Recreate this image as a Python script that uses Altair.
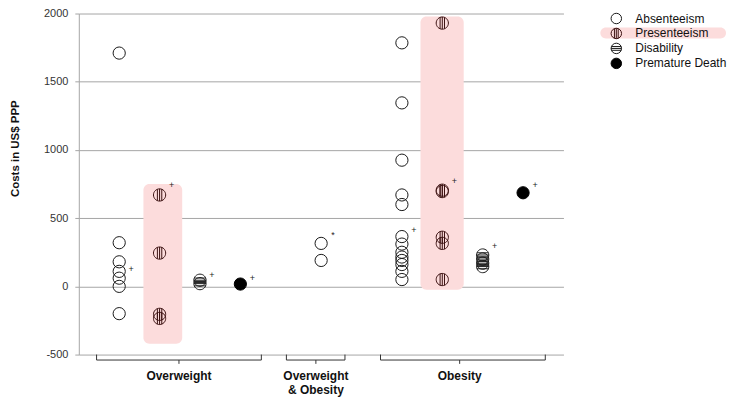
import altair as alt
import pandas as pd

categories = ["Absenteeism", "Presenteeism", "Disability", "Premature Death"]
group_labels = ["Overweight", "Overweight\n& Obesity", "Obesity"]

# values (costs in US$ PPP) per series
ow_abs = [1710, 320, 180, 110, 60, 0, -200]
ow_pre = [670, 244, -205, -235]
ow_dis = [45, 20]
ow_pdt = [17]
oo_abs = [315, 190]
ob_abs = [1785, 1345, 925, 670, 600, 365, 310, 250, 215, 190, 160, 110, 50]
ob_pre = [1930, 705, 695, 360, 315, 50]
ob_dis = [230, 200, 170, 145]
ob_pdt = [686]

series_values = [ow_abs, ow_pre, ow_dis, ow_pdt, oo_abs, ob_abs, ob_pre, ob_dis, ob_pdt]
series_cats = ["Absenteeism", "Presenteeism", "Disability", "Premature Death",
               "Absenteeism",
               "Absenteeism", "Presenteeism", "Disability", "Premature Death"]
series_slots = [1, 2, 3, 4, 6, 8, 9, 10, 11]

# significance markers
mark_slots = [1, 2, 3, 4, 6, 8, 9, 10, 11]
mark_values = [128, 742, 85, 63, 377, 414, 771, 297, 742]
mark_symbols = ["+", "+", "+", "+", "*", "+", "+", "+", "+"]

# highlight bands (presenteeism)
hl_x = [1.6, 8.46]
hl_x2 = [2.56, 9.53]
hl_top = [750, 1978]
hl_bottom = [-420, -25]

# group brackets
br_start = [0.44, 5.14, 7.47]
br_end = [4.52, 6.59, 11.55]
br_mid = [2.48, 5.87, 9.43]
br_top = -500
br_bottom = -540
br_tick = -568
label_top = -622

rows = []
for vals, cat, slot in zip(series_values, series_cats, series_slots):
    for v in vals:
        rows.append({"slot": slot, "value": v, "cat": cat})
points_df = pd.DataFrame(rows)

marks_df = pd.DataFrame({"slot": mark_slots, "value": mark_values, "sym": mark_symbols})
hl_df = pd.DataFrame({"x": hl_x, "x2": hl_x2, "y": hl_top, "y2": hl_bottom})
br_df = pd.DataFrame({"start": br_start, "end": br_end, "mid": br_mid,
                      "label": group_labels,
                      "top": [br_top] * 3, "bottom": [br_bottom] * 3,
                      "tick": [br_tick] * 3, "ly": [label_top] * 3})

FONT = "Liberation Sans"
xscale = alt.Scale(domain=[0, 12], nice=False, zero=False)
yscale = alt.Scale(domain=[-500, 2000], nice=False, zero=False)

yaxis = alt.Axis(
    values=[-500, 0, 500, 1000, 1500, 2000], grid=True,
    gridColor="#a6a6a6", domainColor="#a6a6a6", tickColor="#a6a6a6",
    tickSize=4, labelFont=FONT, labelFontSize=11, labelColor="#333333",
    labelPadding=7, labelExpr="'' + datum.value",
    title="Costs in US$ PPP", titleFont=FONT, titleFontSize=11.5,
    titleFontWeight="bold", titleColor="#111111", titleX=-63, titleY=135,
    titleAngle=270, titleAlign="center", titleBaseline="middle",
)

circ = "M-1,0A1,1,0,1,1,1,0A1,1,0,1,1,-1,0Z"
pres_shape = circ + "M-0.36,-0.93L-0.36,0.93M0,-1L0,1M0.36,-0.93L0.36,0.93"
dis_shape = circ + "M-0.93,-0.36L0.93,-0.36M-1,0L1,0M-0.93,0.36L0.93,0.36"

pink = "#fcdcdc"

bands = alt.Chart(hl_df).mark_rect(color=pink, cornerRadius=6).encode(
    x=alt.X("x:Q", scale=xscale, axis=None),
    x2="x2:Q",
    y=alt.Y("y:Q", scale=yscale, axis=yaxis),
    y2="y2:Q",
)

legend_band = alt.Chart(alt.Data(values=[{"a": 1}])).mark_rect(
    color=pink, cornerRadius=6
).encode(
    x=alt.value(523), x2=alt.value(649), y=alt.value(14), y2=alt.value(25)
)

legend = alt.Legend(
    title=None, orient="none", legendX=533, legendY=-1, padding=0,
    symbolSize=110, symbolStrokeWidth=1, labelFont=FONT, labelFontSize=12,
    labelColor="#111", labelOffset=13, rowPadding=-1,
)

points = alt.Chart(points_df).mark_point(filled=True, size=150, strokeWidth=1, opacity=1).encode(
    x=alt.X("slot:Q", scale=xscale, axis=None),
    y=alt.Y("value:Q", scale=yscale, axis=yaxis),
    shape=alt.Shape("cat:N", scale=alt.Scale(domain=categories,
                    range=["circle", pres_shape, dis_shape, "circle"]), legend=legend),
    fill=alt.Fill("cat:N", scale=alt.Scale(domain=categories,
                  range=["transparent", "transparent", "transparent", "#000000"]), legend=legend),
    stroke=alt.Stroke("cat:N", scale=alt.Scale(domain=categories,
                      range=["#1a1a1a", "#3a1010", "#1a1a1a", "#000000"]), legend=legend),
)

marks = alt.Chart(marks_df).mark_text(font=FONT, fontSize=9, color="#222222", dx=12,
                                      baseline="middle", align="center").encode(
    x=alt.X("slot:Q", scale=xscale, axis=None),
    y=alt.Y("value:Q", scale=yscale, axis=yaxis),
    text="sym:N",
)

rule_kw = dict(color="#333333", strokeWidth=1)
br_h = alt.Chart(br_df).mark_rule(**rule_kw).encode(
    x=alt.X("start:Q", scale=xscale, axis=None), x2="end:Q",
    y=alt.Y("bottom:Q", scale=yscale, axis=yaxis))
br_l = alt.Chart(br_df).mark_rule(**rule_kw).encode(
    x=alt.X("start:Q", scale=xscale, axis=None),
    y=alt.Y("top:Q", scale=yscale, axis=yaxis), y2="bottom:Q")
br_r = alt.Chart(br_df).mark_rule(**rule_kw).encode(
    x=alt.X("end:Q", scale=xscale, axis=None),
    y=alt.Y("top:Q", scale=yscale, axis=yaxis), y2="bottom:Q")
br_m = alt.Chart(br_df).mark_rule(**rule_kw).encode(
    x=alt.X("mid:Q", scale=xscale, axis=None),
    y=alt.Y("bottom:Q", scale=yscale, axis=yaxis), y2="tick:Q")
br_t = alt.Chart(br_df).mark_text(font=FONT, fontSize=12, fontWeight="bold", color="#111111",
                                  baseline="top", align="center", lineBreak="\n",
                                  lineHeight=14).encode(
    x=alt.X("mid:Q", scale=xscale, axis=None),
    y=alt.Y("ly:Q", scale=yscale, axis=yaxis),
    text="label:N",
)

chart = alt.layer(bands, legend_band, br_h, br_l, br_r, br_m, br_t, points, marks).properties(
    width=486, height=342,
    autosize=alt.AutoSizeParams(type="none"),
    padding={"left": 71, "top": 5, "right": 165, "bottom": 42},
).configure_view(stroke=None)

chart.save("out.html", embed_options={"renderer": "svg", "actions": False})
